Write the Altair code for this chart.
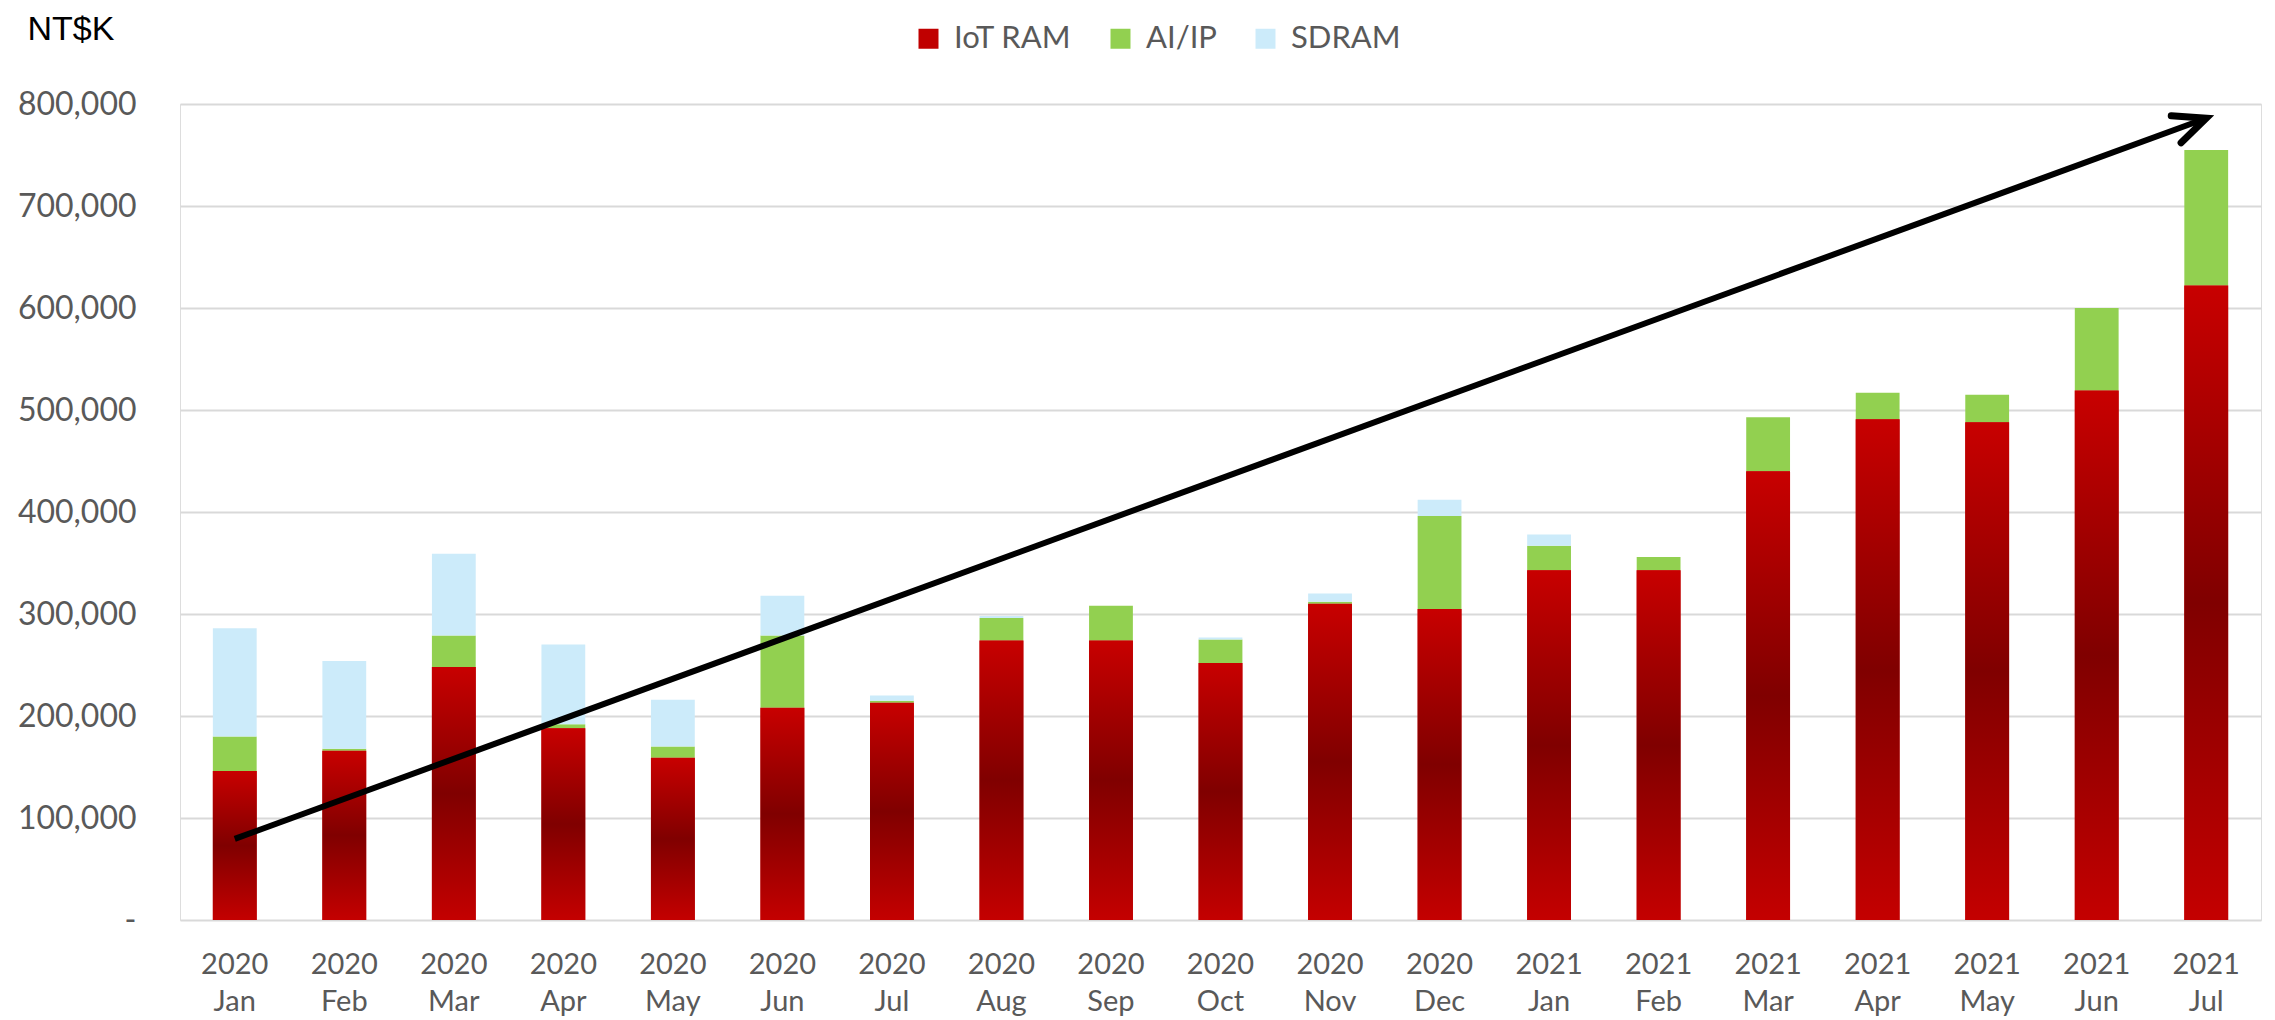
import altair as alt
import pandas as pd

months = ["2020 Jan", "2020 Feb", "2020 Mar", "2020 Apr", "2020 May", "2020 Jun",
          "2020 Jul", "2020 Aug", "2020 Sep", "2020 Oct", "2020 Nov", "2020 Dec",
          "2021 Jan", "2021 Feb", "2021 Mar", "2021 Apr", "2021 May", "2021 Jun",
          "2021 Jul"]
iot_ram = [146000, 166000, 248000, 188000, 159000, 208000, 213000, 274000, 274000,
           252000, 310000, 305000, 343000, 343000, 440000, 491000, 488000, 519000,
           622000]
ai_ip = [34000, 2000, 31000, 4000, 11000, 71000, 2000, 22000, 34000,
         23000, 2000, 91000, 24000, 13000, 53000, 26000, 27000, 81000, 133000]
sdram = [106000, 86000, 80000, 78000, 46000, 39000, 5000, 2000, 0,
         2000, 8000, 16000, 11000, 0, 0, 0, 0, 0, 0]
series = ["IoT RAM", "AI/IP", "SDRAM"]
series_colors = ["#C00000", "#92D050", "#CCEBFA"]
y_ticks = [0, 100000, 200000, 300000, 400000, 500000, 600000, 700000, 800000]

arrow_x = ["2020 Jan", "2021 Jul"]
arrow_y = [79500, 786000]

rows = []
for i, m in enumerate(months):
    for k, (name, vals) in enumerate(zip(series, [iot_ram, ai_ip, sdram])):
        rows.append({"month": m, "series": name, "value": vals[i], "order": k})
df = pd.DataFrame(rows)
df_iot = pd.DataFrame({"month": months, "value": iot_ram})
df_arrow = pd.DataFrame({"month": arrow_x, "value": arrow_y})
df_head = df_arrow.iloc[[1]]

FONT = "Lato"
GRAY = "#595959"

x_enc = alt.X(
    "month:N", sort=months,
    scale=alt.Scale(paddingInner=0.6, paddingOuter=0.3),
    axis=alt.Axis(title=None, labelAngle=0, labelExpr="split(datum.label, ' ')",
                  labelFont=FONT, labelFontSize=29, labelColor=GRAY,
                  labelLineHeight=37, labelPadding=30, ticks=False, domain=False,
                  labelBaseline="top"),
)
y_scale = alt.Scale(domain=[0, 800000], nice=False)
y_axis = alt.Axis(
    values=y_ticks, title="NT$K", titleAngle=0, titleAlign="left",
    titleBaseline="alphabetic", titleX=-153, titleY=-65,
    titleFont="Liberation Sans", titleFontSize=34, titleFontWeight="normal",
    titleColor="#000000",
    labelExpr="datum.value == 0 ? '-\u00a0\u00a0\u00a0' : format(datum.value, ',')",
    labelFont=FONT, labelFontSize=32, labelColor=GRAY, labelPadding=44,
    ticks=False, domain=False, grid=True, gridColor="#D9D9D9", gridWidth=2,
)

bars = alt.Chart(df).mark_bar().encode(
    x=x_enc,
    y=alt.Y("value:Q", stack="zero", scale=y_scale, axis=y_axis),
    color=alt.Color(
        "series:N",
        scale=alt.Scale(domain=series, range=series_colors),
        legend=alt.Legend(
            title=None, orient="none", direction="horizontal",
            legendX=733, legendY=-81, symbolType="square", symbolSize=400,
            symbolStrokeWidth=0, labelFont=FONT, labelFontSize=31,
            labelColor=GRAY, labelOffset=10, columnPadding=33, padding=0,
        ),
    ),
    order=alt.Order("order:Q", sort="ascending"),
)

red_grad = alt.Gradient(
    gradient="linear",
    stops=[alt.GradientStop(color="#C80000", offset=0),
           alt.GradientStop(color="#800000", offset=0.5),
           alt.GradientStop(color="#C40000", offset=1)],
    x1=0, x2=0, y1=0, y2=1,
)
iot_bars = alt.Chart(df_iot).mark_bar(color=red_grad).encode(
    x=alt.X("month:N", sort=months),
    y=alt.Y("value:Q", scale=y_scale),
)

arrow_line = alt.Chart(df_arrow).mark_line(
    color="#000000", strokeWidth=6, strokeCap="butt"
).encode(
    x=alt.X("month:N", sort=months),
    y=alt.Y("value:Q", scale=y_scale),
)
arrow_head = alt.Chart(df_head).mark_point(
    shape="M -1 -0.45 L 0 0 L -1 0.45", size=4096, filled=False,
    stroke="#000000", strokeWidth=7, strokeCap="round", strokeJoin="miter",
    angle=340, opacity=1,
).encode(
    x=alt.X("month:N", sort=months),
    y=alt.Y("value:Q", scale=y_scale),
)

chart = alt.layer(bars, iot_bars, arrow_line, arrow_head).properties(
    width=2081, height=816,
    padding={"left": 172, "top": 96, "right": 5, "bottom": 97},
    autosize=alt.AutoSizeParams(type="none"),
).configure_view(stroke=None).configure(background="#FFFFFF")

chart.save("out.html", embed_options={"renderer": "svg", "actions": False})
